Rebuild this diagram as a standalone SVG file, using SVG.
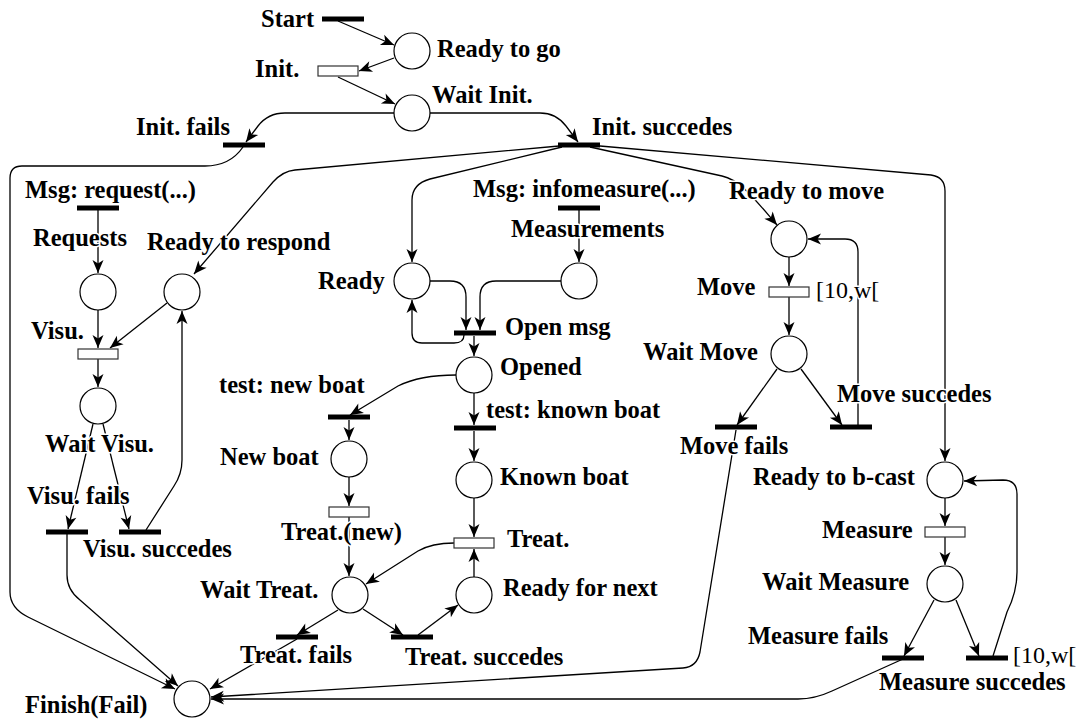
<svg xmlns="http://www.w3.org/2000/svg" width="1076" height="722" viewBox="0 0 1076 722">
<style>
.pl{fill:#fff;stroke:#000;stroke-width:1.2}
.bar{fill:#000}
.box{fill:#fff;stroke:#333;stroke-width:1.2}
.arc{fill:none;stroke:#000;stroke-width:1.3;marker-end:url(#ah)}
.ln{fill:none;stroke:#000;stroke-width:1.3}
.l{font-family:"Liberation Serif","Times New Roman",serif;font-weight:bold;font-size:24.5px;fill:#000;stroke:#fff;stroke-width:3;paint-order:stroke;stroke-linejoin:round}
.t{font-family:"Liberation Serif","Times New Roman",serif;font-size:24px;fill:#000;stroke:#fff;stroke-width:3;paint-order:stroke;stroke-linejoin:round}
</style>
<defs>
<marker id="ah" markerUnits="userSpaceOnUse" markerWidth="14" markerHeight="12" refX="13" refY="6" orient="auto" overflow="visible"><path d="M0,0.5 L13,6 L0,11.5 L3.5,6 Z" fill="#000"/></marker>
</defs>
<rect width="1076" height="722" fill="#fff"/>
<g id="connectors">
<path class="arc" d="M338,21 L394,45"/>
<path class="arc" d="M394,58 L359,71"/>
<path class="arc" d="M338,77 L395,104"/>
<path class="arc" d="M394,113 L285,113 Q268,113 258,126 L246,142"/>
<path class="arc" d="M243,147 Q230,166 205,166 L22,166 Q10,166 10,178 L10,592 Q10,608 28,617 L175,689"/>
<path class="arc" d="M430,113 L540,113 Q556,113 566,126 L578,142"/>
<path class="arc" d="M559,146 L295,170 Q283,171 273,182 L194,274"/>
<path class="arc" d="M562,147 L430,179 Q412,184 412,200 L412,262"/>
<path class="arc" d="M590,147 L722,176 C740,180 752,196 777,225"/>
<path class="arc" d="M600,146 L931,175 Q945,177 945,191 L945,461"/>
<path class="arc" d="M98,210 L98,273"/>
<path class="arc" d="M98,310 L98,348"/>
<path class="arc" d="M167,303 L110,348"/>
<path class="arc" d="M98,359 L98,387"/>
<path class="arc" d="M93,424 L68,529"/>
<path class="arc" d="M103,424 L129,529"/>
<path class="arc" d="M146,530 L174,486 Q182,474 182,460 L182,311"/>
<path class="arc" d="M67,534 L67,575 Q67,590 80,600 L178,686"/>
<path class="arc" d="M579,210 L579,262"/>
<path class="arc" d="M430,281 L450,281 Q466,281 466,297 L466,330"/>
<path class="arc" d="M561,281 L496,281 Q480,281 480,297 L480,330"/>
<path class="arc" d="M464,335 Q464,343 454,343 L422,343 Q412,343 412,333 L412,300"/>
<path class="arc" d="M474,336 L474,356"/>
<path class="arc" d="M456,375 Q420,375 398,386 L350,415"/>
<path class="arc" d="M474,393 L474,425"/>
<path class="arc" d="M349,420 L349,440"/>
<path class="arc" d="M474,431 L474,461"/>
<path class="arc" d="M349,477 L349,506"/>
<path class="arc" d="M349,517 L349,576"/>
<path class="arc" d="M474,498 L474,537"/>
<path class="arc" d="M474,577 L474,549"/>
<path class="arc" d="M454,543 Q432,543 418,551 L366,584"/>
<path class="arc" d="M338,610 L297,635"/>
<path class="arc" d="M363,609 L403,635"/>
<path class="arc" d="M418,635 L458,605"/>
<path class="arc" d="M297,639 L210,689"/>
<path class="arc" d="M789,257 L789,286"/>
<path class="arc" d="M789,297 L789,335"/>
<path class="arc" d="M777,369 L737,425"/>
<path class="arc" d="M801,369 L842,425"/>
<path class="arc" d="M858,427 L858,252 Q858,239 845,239 L808,239"/>
<path class="arc" d="M736,430 L700,652 Q697,667 683,668 L211,697"/>
<path class="arc" d="M945,498 L945,526"/>
<path class="arc" d="M945,537 L945,565"/>
<path class="arc" d="M934,600 L904,656"/>
<path class="arc" d="M956,600 L979,656"/>
<path class="arc" d="M993,656 L1007,612 Q1017,592 1017,572 L1017,494 Q1017,480 1003,480 L964,481"/>
<path class="arc" d="M903,659 L832,691 Q815,699 798,699 L211,699"/>
</g>
<g id="start"><rect class="bar" x="322" y="16.5" width="42" height="5"/><text class="l" x="261" y="27">Start</text></g>
<g id="ready-to-go"><circle class="pl" cx="412" cy="51" r="18"/><text class="l" x="437" y="57">Ready to go</text></g>
<g id="init"><rect class="box" x="318" y="66" width="40" height="10"/><text class="l" x="255" y="77">Init.</text></g>
<g id="wait-init"><circle class="pl" cx="412" cy="113" r="18"/><text class="l" x="432" y="103">Wait Init.</text></g>
<g id="init-fails"><rect class="bar" x="223" y="142.5" width="42" height="5"/><text class="l" x="136" y="135">Init. fails</text></g>
<g id="init-succedes"><rect class="bar" x="558" y="142.5" width="42" height="5"/><text class="l" x="592" y="135">Init. succedes</text></g>
<g id="msg-request"><rect class="bar" x="77" y="205.5" width="42" height="5"/><text class="l" x="25" y="198">Msg: request(...)</text></g>
<g id="requests"><circle class="pl" cx="98" cy="292" r="18"/><text class="l" x="33" y="246">Requests</text></g>
<g id="ready-to-respond"><circle class="pl" cx="182" cy="292" r="18"/><text class="l" x="147" y="250">Ready to respond</text></g>
<g id="visu"><rect class="box" x="78" y="349" width="40" height="10"/><text class="l" x="31" y="339">Visu.</text></g>
<g id="wait-visu"><circle class="pl" cx="98" cy="406" r="18"/><text class="l" x="45" y="452">Wait Visu.</text></g>
<g id="visu-fails"><rect class="bar" x="46" y="529.5" width="42" height="5"/><text class="l" x="27" y="504">Visu. fails</text></g>
<g id="visu-succedes"><rect class="bar" x="119" y="529.5" width="42" height="5"/><text class="l" x="83" y="557">Visu. succedes</text></g>
<g id="msg-infomeasure"><rect class="bar" x="558" y="205.5" width="42" height="5"/><text class="l" x="473" y="197">Msg: infomeasure(...)</text></g>
<g id="measurements"><circle class="pl" cx="579" cy="281" r="18"/><text class="l" x="511" y="237">Measurements</text></g>
<g id="ready"><circle class="pl" cx="412" cy="281" r="18"/><text class="l" x="318" y="289">Ready</text></g>
<g id="open-msg"><rect class="bar" x="454" y="330.5" width="42" height="5"/><text class="l" x="505" y="335">Open msg</text></g>
<g id="opened"><circle class="pl" cx="474" cy="375" r="18"/><text class="l" x="500" y="375">Opened</text></g>
<g id="test-new-boat"><rect class="bar" x="328" y="414.5" width="42" height="5"/><text class="l" x="219" y="393">test: new boat</text></g>
<g id="test-known-boat"><rect class="bar" x="454" y="425.5" width="42" height="5"/><text class="l" x="486" y="418">test: known boat</text></g>
<g id="new-boat"><circle class="pl" cx="349" cy="459" r="18"/><text class="l" x="220" y="465">New boat</text></g>
<g id="known-boat"><circle class="pl" cx="474" cy="480" r="18"/><text class="l" x="500" y="485">Known boat</text></g>
<g id="treat-new"><rect class="box" x="329" y="507" width="40" height="10"/><text class="l" x="281" y="540">Treat.(new)</text></g>
<g id="treat"><rect class="box" x="454" y="538" width="40" height="10"/><text class="l" x="507" y="547">Treat.</text></g>
<g id="wait-treat"><circle class="pl" cx="350" cy="595" r="18"/><text class="l" x="200" y="598">Wait Treat.</text></g>
<g id="ready-for-next"><circle class="pl" cx="474" cy="595" r="18"/><text class="l" x="503" y="596">Ready for next</text></g>
<g id="treat-fails"><rect class="bar" x="276" y="634.5" width="42" height="5"/><text class="l" x="240" y="663">Treat. fails</text></g>
<g id="treat-succedes"><rect class="bar" x="391" y="634.5" width="42" height="5"/><text class="l" x="405" y="665">Treat. succedes</text></g>
<g id="finish-fail"><circle class="pl" cx="192" cy="699" r="18"/><text class="l" x="25" y="713">Finish(Fail)</text></g>
<g id="ready-to-move"><circle class="pl" cx="789" cy="239" r="18"/><text class="l" x="729" y="199">Ready to move</text></g>
<g id="move"><rect class="box" x="769" y="287" width="40" height="10"/><text class="l" x="697" y="295">Move</text><text class="t" x="816" y="298">[10,w[</text></g>
<g id="wait-move"><circle class="pl" cx="789" cy="354" r="18"/><text class="l" x="643" y="360">Wait Move</text></g>
<g id="move-fails"><rect class="bar" x="715" y="424.5" width="42" height="5"/><text class="l" x="680" y="454">Move fails</text></g>
<g id="move-succedes"><rect class="bar" x="830" y="424.5" width="42" height="5"/><text class="l" x="837" y="402">Move succedes</text></g>
<g id="ready-to-bcast"><circle class="pl" cx="945" cy="480" r="18"/><text class="l" x="753" y="485">Ready to b-cast</text></g>
<g id="measure"><rect class="box" x="925" y="527" width="40" height="10"/><text class="l" x="822" y="538">Measure</text></g>
<g id="wait-measure"><circle class="pl" cx="945" cy="584" r="18"/><text class="l" x="762" y="590">Wait Measure</text></g>
<g id="measure-fails"><rect class="bar" x="882" y="655.5" width="42" height="5"/><text class="l" x="748" y="644">Measure fails</text></g>
<g id="measure-succedes"><rect class="bar" x="966" y="655.5" width="42" height="5"/><text class="l" x="879" y="690">Measure succedes</text><text class="t" x="1013" y="663">[10,w[</text></g>
</svg>
